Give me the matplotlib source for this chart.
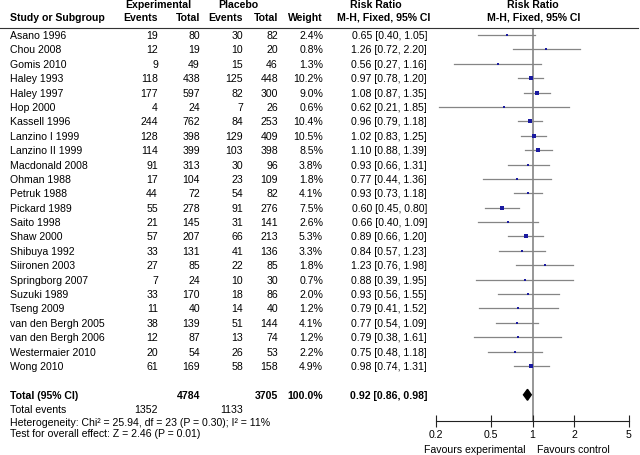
import numpy as np
import matplotlib
matplotlib.use("Agg")
import matplotlib.pyplot as plt
from matplotlib.lines import Line2D
from matplotlib.transforms import blended_transform_factory

plt.rcParams['font.family'] = ['Liberation Sans', 'DejaVu Sans']
plt.rcParams['font.size'] = 7.6

studies = ['Asano 1996', 'Chou 2008', 'Gomis 2010', 'Haley 1993', 'Haley 1997',
           'Hop 2000', 'Kassell 1996', 'Lanzino I 1999', 'Lanzino II 1999',
           'Macdonald 2008', 'Ohman 1988', 'Petruk 1988', 'Pickard 1989',
           'Saito 1998', 'Shaw 2000', 'Shibuya 1992', 'Siironen 2003',
           'Springborg 2007', 'Suzuki 1989', 'Tseng 2009', 'van den Bergh 2005',
           'van den Bergh 2006', 'Westermaier 2010', 'Wong 2010']
exp_events = [19, 12, 9, 118, 177, 4, 244, 128, 114, 91, 17, 44, 55, 21, 57, 33,
              27, 7, 33, 11, 38, 12, 20, 61]
exp_total = [80, 19, 49, 438, 597, 24, 762, 398, 399, 313, 104, 72, 278, 145, 207,
             131, 85, 24, 170, 40, 139, 87, 54, 169]
pla_events = [30, 10, 15, 125, 82, 7, 84, 129, 103, 30, 23, 54, 91, 31, 66, 41,
              22, 10, 18, 14, 51, 13, 26, 58]
pla_total = [82, 20, 46, 448, 300, 26, 253, 409, 398, 96, 109, 82, 276, 141, 213,
             136, 85, 30, 86, 40, 144, 74, 53, 158]
weights = [2.4, 0.8, 1.3, 10.2, 9.0, 0.6, 10.4, 10.5, 8.5, 3.8, 1.8, 4.1, 7.5, 2.6,
           5.3, 3.3, 1.8, 0.7, 2.0, 1.2, 4.1, 1.2, 2.2, 4.9]
rr = [0.65, 1.26, 0.56, 0.97, 1.08, 0.62, 0.96, 1.02, 1.10, 0.93, 0.77, 0.93, 0.60,
      0.66, 0.89, 0.84, 1.23, 0.88, 0.93, 0.79, 0.77, 0.79, 0.75, 0.98]
rr_lo = [0.40, 0.72, 0.27, 0.78, 0.87, 0.21, 0.79, 0.83, 0.88, 0.66, 0.44, 0.73, 0.45,
         0.40, 0.66, 0.57, 0.76, 0.39, 0.56, 0.41, 0.54, 0.38, 0.48, 0.74]
rr_hi = [1.05, 2.20, 1.16, 1.20, 1.35, 1.85, 1.18, 1.25, 1.39, 1.31, 1.36, 1.18, 0.80,
         1.09, 1.20, 1.23, 1.98, 1.95, 1.55, 1.52, 1.09, 1.61, 1.18, 1.31]

total_rr, total_lo, total_hi = 0.92, 0.86, 0.98
total_exp, total_pla = 4784, 3705
events_exp, events_pla = 1352, 1133
ticks = [0.2, 0.5, 1, 2, 5]

W, H = 640, 456
fig = plt.figure(figsize=(W / 100, H / 100), dpi=100)

def fx(px):
    return px / W

def fy(py):
    return 1 - py / H

# forest axes: x 436..629 px, y 29..422 px
ax = fig.add_axes([fx(436), fy(422), fx(629 - 436), (422 - 29) / H])
ax.set_xscale('log')
ax.set_xlim(0.2, 5)
ax.set_ylim(26.82, -0.486)
for s in ('top', 'right', 'left'):
    ax.spines[s].set_visible(False)
ax.spines['bottom'].set_color('#222222')
ax.spines['bottom'].set_linewidth(0.8)
ax.set_yticks([])
ax.set_xticks(ticks)
ax.set_xticklabels(['0.2', '0.5', '1', '2', '5'])
ax.minorticks_off()
ax.tick_params(axis='x', direction='inout', length=8, width=0.8, color='#222222',
               pad=2, labelsize=7.6)
ax.axvline(1, color='#7a7a7a', lw=1.1, zorder=1)

rows = np.arange(len(studies))
for i in rows:
    ax.plot([rr_lo[i], rr_hi[i]], [i, i], color='#858585', lw=0.9, zorder=2)
    ms = max(1.9, 1.05 * np.sqrt(weights[i]))
    ax.plot(rr[i], i, marker='s', ms=ms, mew=0, color='#1a1aa0', zorder=3)

trow = 25
ax.fill([total_lo, total_rr, total_hi, total_rr],
        [trow, trow - 0.38, trow, trow + 0.38], color='black', zorder=3)

# text columns
tr = blended_transform_factory(fig.transFigure, ax.transData)
for i in rows:
    ax.text(fx(10), i, studies[i], transform=tr, va='center', ha='left')
    ax.text(fx(158), i, str(exp_events[i]), transform=tr, va='center', ha='right')
    ax.text(fx(200), i, str(exp_total[i]), transform=tr, va='center', ha='right')
    ax.text(fx(243), i, str(pla_events[i]), transform=tr, va='center', ha='right')
    ax.text(fx(278), i, str(pla_total[i]), transform=tr, va='center', ha='right')
    ax.text(fx(323), i, f'{weights[i]:.1f}%', transform=tr, va='center', ha='right')
    ax.text(fx(427), i, f'{rr[i]:.2f} [{rr_lo[i]:.2f}, {rr_hi[i]:.2f}]',
            transform=tr, va='center', ha='right')

ax.text(fx(10), trow, 'Total (95% CI)', transform=tr, va='center', ha='left', weight='bold')
ax.text(fx(200), trow, str(total_exp), transform=tr, va='center', ha='right', weight='bold')
ax.text(fx(278), trow, str(total_pla), transform=tr, va='center', ha='right', weight='bold')
ax.text(fx(323), trow, '100.0%', transform=tr, va='center', ha='right', weight='bold')
ax.text(fx(427), trow, f'{total_rr:.2f} [{total_lo:.2f}, {total_hi:.2f}]',
        transform=tr, va='center', ha='right', weight='bold')

# footer
fig.text(fx(10), fy(410), 'Total events', va='center', ha='left')
fig.text(fx(158), fy(410), str(events_exp), va='center', ha='right')
fig.text(fx(243), fy(410), str(events_pla), va='center', ha='right')
fig.text(fx(10), fy(423), 'Heterogeneity: Chi\u00b2 = 25.94, df = 23 (P = 0.30); I\u00b2 = 11%',
         va='center', ha='left')
fig.text(fx(10), fy(434), 'Test for overall effect: Z = 2.46 (P = 0.01)',
         va='center', ha='left')
fig.text(fx(526), fy(450), 'Favours experimental', va='center', ha='right')
fig.text(fx(537), fy(450), 'Favours control', va='center', ha='left')

# header
hb = dict(va='center', weight='bold')
fig.text(fx(158), fy(5), 'Experimental', ha='center', **hb)
fig.text(fx(238), fy(5), 'Placebo', ha='center', **hb)
fig.text(fx(376), fy(5), 'Risk Ratio', ha='center', **hb)
fig.text(fx(533), fy(5), 'Risk Ratio', ha='center', **hb)
fig.text(fx(10), fy(18), 'Study or Subgroup', ha='left', **hb)
fig.text(fx(158), fy(18), 'Events', ha='right', **hb)
fig.text(fx(200), fy(18), 'Total', ha='right', **hb)
fig.text(fx(243), fy(18), 'Events', ha='right', **hb)
fig.text(fx(278), fy(18), 'Total', ha='right', **hb)
fig.text(fx(323), fy(18), 'Weight', ha='right', **hb)
fig.text(fx(384), fy(18), 'M-H, Fixed, 95% CI', ha='center', **hb)
fig.text(fx(534), fy(18), 'M-H, Fixed, 95% CI', ha='center', **hb)
fig.add_artist(Line2D([fx(0), fx(638)], [fy(29), fy(29)], transform=fig.transFigure,
                      color='#333333', lw=0.8))

fig.savefig('out.png', dpi=100)
